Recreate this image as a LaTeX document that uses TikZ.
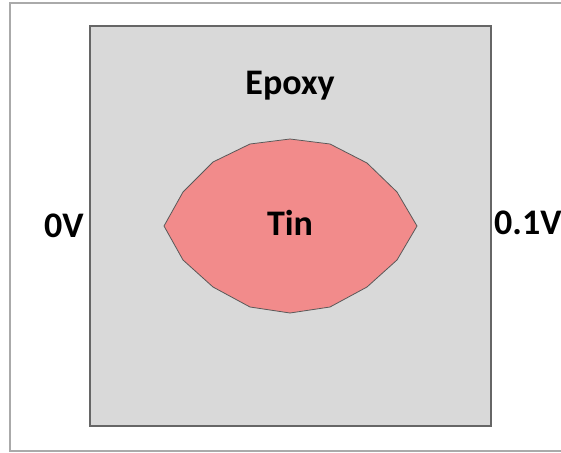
\documentclass[tikz,border=0pt]{standalone}
\usepackage{fontspec}
\setmainfont{Carlito}
\usepackage{tikz}
\usetikzlibrary{positioning}

\definecolor{epoxygray}{RGB}{217,217,217}
\definecolor{tinred}{RGB}{242,139,139}
\definecolor{framegray}{RGB}{170,170,170}

\tikzset{
  lbl/.style={font=\fontsize{36}{42}\selectfont\bfseries, inner sep=0pt, anchor=base}
}

\begin{document}
\begin{tikzpicture}[x=1pt,y=-1pt]
    % Page size
    \useasboundingbox (0,0) rectangle (561,452);
    \clip (0,0) rectangle (561,452);

    % Outer frame
    \draw[framegray,line width=2pt] (10,3) rectangle (580,451);

    % Epoxy block
    \draw[fill=epoxygray,draw=black!60,line width=1.8pt] (90,26) rectangle (491,426);

    % Tin inclusion
    \draw[fill=tinred,draw=black!65,line width=0.8pt]
      (164,226) -- (183,192) -- (213,162) -- (250,144) -- (290,139)
      -- (330,144) -- (367,163) -- (397,192) -- (417,226)
      -- (397,260) -- (367,287) -- (330,307) -- (290,313)
      -- (250,307) -- (213,287) -- (183,260) -- cycle;

    % Labels
    \node[lbl] (epoxy) at (290,94) {Epoxy};
    \node[lbl] (tin) at (290,235) {Tin};
    \node[lbl] (left) at (64,237) {0V};
    \node[lbl,anchor=base west] (right) at (494,234) {0.1V};
\end{tikzpicture}
\end{document}
